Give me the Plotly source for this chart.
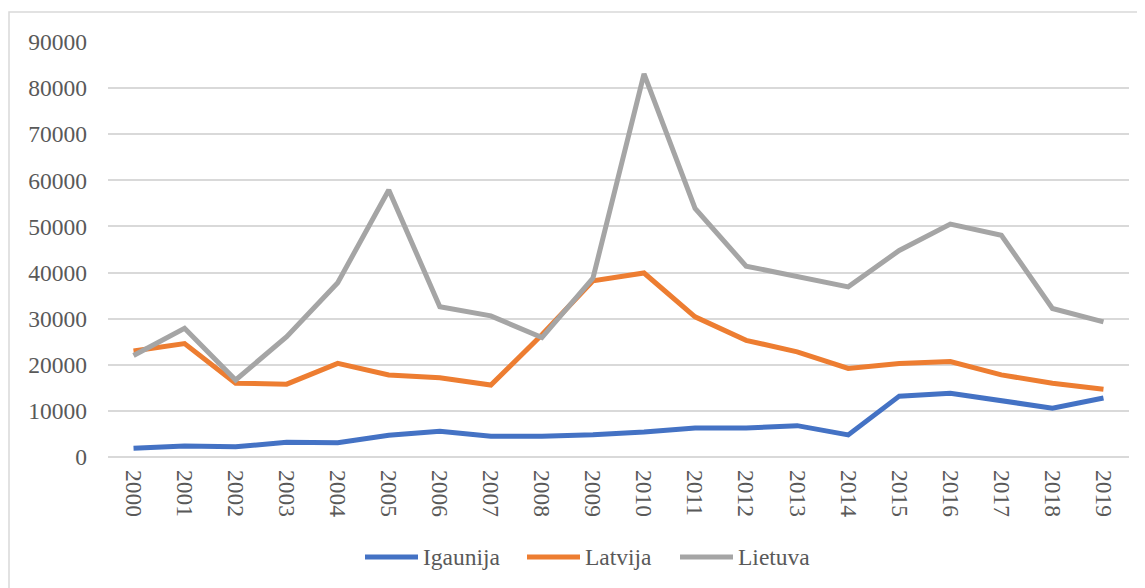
import plotly.graph_objects as go

# data
years = [str(y) for y in range(2000, 2020)]
igaunija = [1900, 2400, 2200, 3200, 3100, 4700, 5600, 4500, 4500, 4800,
            5400, 6300, 6300, 6800, 4800, 13200, 13800, 12300, 10600, 12800]
latvija = [23000, 24600, 16000, 15800, 20300, 17800, 17200, 15600, 26500, 38200,
           39900, 30400, 25300, 22800, 19200, 20300, 20700, 17800, 16000, 14700]
lietuva = [22000, 27900, 16700, 26100, 37800, 57900, 32600, 30600, 25900, 38800,
           83100, 53900, 41400, 39100, 36900, 44800, 50500, 48100, 32200, 29300]

series = [("Igaunija", igaunija, "#4472C4"),
          ("Latvija", latvija, "#ED7D31"),
          ("Lietuva", lietuva, "#A5A5A5")]

# page body adds an 8px margin, so the figure is shrunk by that amount
OFF = 8
W, H = 1145 - OFF, 588 - OFF
L, R, T, B = 108 - OFF, 16, 42 - OFF, 131
pw, ph = W - L - R, H - T - B


def px_x(x):
    return (x - OFF - L) / pw


def px_y(y):
    return (H - B - (y - OFF)) / ph


FONT = "Liberation Serif, Times New Roman, serif"
GREY = "#595959"
FS = 23.5

fig = go.Figure()
for name, vals, col in series:
    fig.add_trace(go.Scatter(x=years, y=vals, name=name, mode="lines",
                             line=dict(color=col, width=5), showlegend=False))

# chart area border
fig.add_shape(type="rect", xref="paper", yref="paper",
              x0=px_x(9), x1=px_x(1170), y0=px_y(12), y1=px_y(610),
              line=dict(color="#D9D9D9", width=1.5))

# legend drawn by hand (Excel style long keys)
leg_y = px_y(557)
for (name, vals, col), x0 in zip(series, [365, 527, 680]):
    fig.add_shape(type="line", xref="paper", yref="paper",
                  x0=px_x(x0), x1=px_x(x0 + 53), y0=leg_y, y1=leg_y,
                  line=dict(color=col, width=5))
    fig.add_annotation(xref="paper", yref="paper", x=px_x(x0 + 56), y=leg_y,
                       text=name, showarrow=False, xanchor="left", yanchor="middle",
                       font=dict(family=FONT, size=FS, color=GREY))

fig.update_layout(
    width=W, height=H,
    margin=dict(l=L, r=R, t=T, b=B),
    paper_bgcolor="white", plot_bgcolor="white",
    font=dict(family=FONT, size=FS, color=GREY),
)
fig.update_xaxes(type="category", range=[-0.5, 19.5], tickangle=90,
                 showgrid=False, showline=False, ticks="", ticklabelstandoff=12,
                 tickfont=dict(size=FS, color=GREY))
fig.update_yaxes(range=[0, 90000], dtick=10000, showgrid=True, gridcolor="#D9D9D9",
                 gridwidth=1.5, zeroline=True, zerolinecolor="#D9D9D9", zerolinewidth=1.5,
                 ticks="", ticklabelstandoff=20, tickformat="d",
                 tickfont=dict(size=FS, color=GREY))

fig.write_html("out.html")
